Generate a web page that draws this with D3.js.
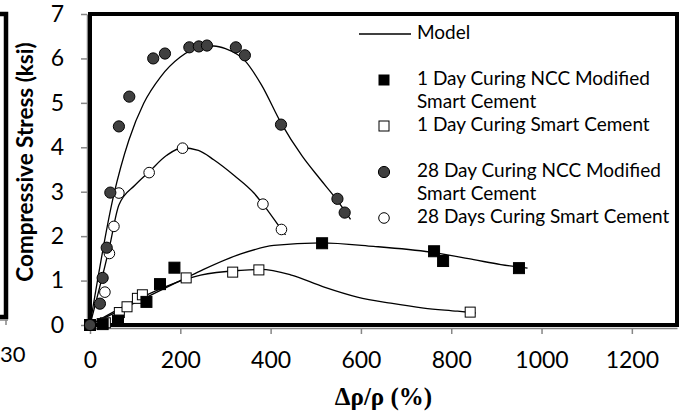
<!DOCTYPE html>
<html>
<head>
<meta charset="utf-8">
<script src="https://cdn.jsdelivr.net/npm/d3@7"></script>
<style>
  body { margin: 0; background: #fff; }
  svg { display: block; }
</style>
</head>
<body>
<div id="chart"></div>
<script>
// data: x = Δρ/ρ (%), y = compressive stress (ksi)
var xTicks = [0, 200, 400, 600, 800, 1000, 1200];
var yTicks = [0, 1, 2, 3, 4, 5, 6, 7];

var ncc1Day = [[0,0],[28,0.02],[62,0.1],[125,0.52],[155,0.92],[187,1.29],[514,1.84],[762,1.66],[782,1.44],[950,1.28]];
var smart1Day = [[0,0],[34,0.05],[65,0.28],[82,0.41],[105,0.6],[116,0.68],[213,1.06],[316,1.19],[374,1.24],[842,0.29]];
var ncc28Day = [[0,0],[22,0.48],[28,1.06],[37,1.74],[45,2.98],[64,4.47],[87,5.14],[140,6.0],[166,6.11],[220,6.25],[241,6.27],[259,6.29],[323,6.25],[343,6.07],[423,4.51],[548,2.84],[564,2.53]];
var smart28Day = [[0,0],[33,0.74],[43,1.61],[53,2.22],[64,2.97],[131,3.43],[205,3.98],[383,2.72],[424,2.15]];

// model curves
var modelNcc1 = [[0,0],[100,0.5],[200,1.0],[245,1.22],[334,1.6],[407,1.79],[511,1.85],[628,1.77],[754,1.64],[850,1.47],[910,1.36],[969,1.28]];
var modelSmart1 = [[0,0],[100,0.55],[213,1.03],[245,1.12],[334,1.23],[378,1.25],[444,1.13],[517,0.86],[592,0.63],[666,0.49],[739,0.38],[814,0.31],[854,0.27]];
var modelNcc28 = [[0,0],[52,2.9],[86,4.16],[119,4.99],[156,5.58],[200,6.03],[245,6.26],[274,6.28],[300,6.22],[343,5.95],[380,5.4],[423,4.55],[470,3.8],[510,3.28],[548,2.8],[577,2.38]];
var modelSmart28 = [[0,0],[43,1.75],[64,2.7],[100,3.15],[131,3.45],[170,3.82],[205,3.99],[240,3.93],[274,3.72],[320,3.36],[363,2.97],[383,2.72],[424,2.15],[433,2.03]];

var legendLabels = [
  ["Model"],
  ["1 Day Curing NCC Modified", "Smart Cement"],
  ["1 Day Curing Smart Cement"],
  ["28 Day Curing NCC Modified", "Smart Cement"],
  ["28 Days Curing Smart Cement"]
];

var width = 682, height = 416;
var plot = {left: 90, right: 677, top: 14, bottom: 325};

var svg = d3.select("#chart")
    .append("svg")
    .attr("width", width)
    .attr("height", height);

var x = d3.scaleLinear()
    .domain([0, 1300])
    .range([plot.left, plot.right]);

var y = d3.scaleLinear()
    .domain([0, 7])
    .range([plot.bottom, plot.top]);

// piece of the neighbouring chart cut off at the left edge
var edge = svg.append("g");
edge.append("path")
    .attr("d", "M0,14 L6,14 L6,317 L0,317")
    .attr("fill", "none")
    .attr("stroke", "#000")
    .attr("stroke-width", 4.5);
edge.append("line")
    .attr("x1", 0).attr("x2", 8).attr("y1", 320).attr("y2", 320)
    .attr("stroke", "#868686").attr("stroke-width", 1.5);
edge.append("line")
    .attr("x1", 6).attr("x2", 6).attr("y1", 320).attr("y2", 325)
    .attr("stroke", "#868686").attr("stroke-width", 1.5);
edge.append("text")
    .attr("x", 0).attr("y", 362)
    .style("font-family", "Lato")
    .style("font-size", "22px")
    .text("30");

// axes
var xAxis = svg.append("g")
    .attr("transform", `translate(0,${plot.bottom + 3})`)
    .call(d3.axisBottom(x).tickValues(xTicks).tickFormat(d3.format("d"))
        .tickSize(6).tickPadding(18).tickSizeOuter(0));

var yAxis = svg.append("g")
    .attr("transform", `translate(${plot.left - 3},0)`)
    .call(d3.axisLeft(y).tickValues(yTicks).tickFormat(d3.format("d"))
        .tickSize(6).tickPadding(17).tickSizeOuter(0));

[xAxis, yAxis].forEach(function(a){
    a.selectAll("path, line").attr("stroke", "#868686").attr("stroke-width", 1.5);
    a.selectAll("text")
        .attr("fill", "#000")
        .style("font-family", "Lato")
        .style("font-size", "23px");
});

// plot area border
svg.append("rect")
    .attr("x", plot.left)
    .attr("y", plot.top)
    .attr("width", plot.right - plot.left)
    .attr("height", plot.bottom - plot.top)
    .attr("fill", "none")
    .attr("stroke", "#000")
    .attr("stroke-width", 4);

// model lines
var line = d3.line()
    .x(d => x(d[0]))
    .y(d => y(d[1]))
    .curve(d3.curveMonotoneX);

[modelNcc1, modelSmart1, modelNcc28, modelSmart28].forEach(function(m){
    svg.append("path")
        .datum(m)
        .attr("d", line)
        .attr("fill", "none")
        .attr("stroke", "#000")
        .attr("stroke-width", 1.3);
});

// markers
function squares(data, fill, size) {
    svg.append("g")
        .selectAll("rect")
        .data(data)
        .enter()
        .append("rect")
        .attr("x", d => x(d[0]) - size / 2)
        .attr("y", d => y(d[1]) - size / 2)
        .attr("width", size)
        .attr("height", size)
        .attr("fill", fill)
        .attr("stroke", "#000")
        .attr("stroke-width", 1);
}
function circles(data, fill, r) {
    svg.append("g")
        .selectAll("circle")
        .data(data)
        .enter()
        .append("circle")
        .attr("cx", d => x(d[0]))
        .attr("cy", d => y(d[1]))
        .attr("r", r)
        .attr("fill", fill)
        .attr("stroke", "#000")
        .attr("stroke-width", 1);
}

squares(smart1Day, "#fff", 10);
squares(ncc1Day, "#000", 11);
circles(smart28Day, "#fff", 5.3);
circles(ncc28Day, "#404040", 5.6);

// legend
var legend = svg.append("g");
var legendY = [34, 80, 126, 172, 218];

legend.append("line")
    .attr("x1", 359).attr("x2", 411)
    .attr("y1", legendY[0]).attr("y2", legendY[0])
    .attr("stroke", "#000").attr("stroke-width", 1.3);

legend.append("rect")
    .attr("x", 378.5).attr("y", legendY[1] - 5.5)
    .attr("width", 11).attr("height", 11)
    .attr("fill", "#000");
legend.append("rect")
    .attr("x", 379).attr("y", legendY[2] - 5)
    .attr("width", 10).attr("height", 10)
    .attr("fill", "#fff").attr("stroke", "#000");
legend.append("circle")
    .attr("cx", 384).attr("cy", legendY[3]).attr("r", 5.6)
    .attr("fill", "#404040").attr("stroke", "#000");
legend.append("circle")
    .attr("cx", 384).attr("cy", legendY[4]).attr("r", 5.3)
    .attr("fill", "#fff").attr("stroke", "#000");

legendLabels.forEach(function(lines, i){
    var t = legend.append("text")
        .attr("x", 417)
        .attr("y", legendY[i] - 2)
        .style("font-family", "Lato")
        .style("font-size", "19px");
    lines.forEach(function(s, j){
        t.append("tspan")
            .attr("x", 417)
            .attr("dy", j === 0 ? "0.36em" : "23px")
            .text(s);
    });
});

// axis titles
svg.append("text")
    .attr("text-anchor", "middle")
    .attr("x", (plot.left + plot.right) / 2)
    .attr("y", 405)
    .style("font-family", "'Liberation Serif'")
    .style("font-weight", "bold")
    .style("font-size", "25px")
    .text("Δρ/ρ (%)");

svg.append("text")
    .attr("transform", "rotate(-90)")
    .attr("text-anchor", "middle")
    .attr("x", -162)
    .attr("y", 33)
    .style("font-family", "Lato")
    .style("font-weight", "bold")
    .style("font-size", "22.5px")
    .text("Compressive Stress (ksi)");
</script>
</body>
</html>
